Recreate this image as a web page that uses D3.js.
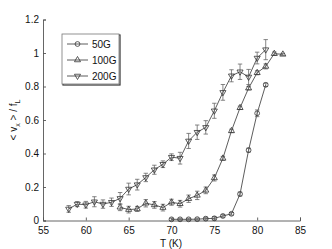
<!DOCTYPE html>
<html>
<head>
<meta charset="utf-8">
<script src="https://cdn.jsdelivr.net/npm/d3@7"></script>
<style>
body { margin: 0; background: #fff; }
text { font-family: "Liberation Sans", Arial, sans-serif; }
</style>
</head>
<body>
<script>
var temps50 = [70, 71, 72, 73, 74, 75, 76, 77, 78, 79, 80, 81];
var vals50 = [0.007, 0.007, 0.007, 0.008, 0.011, 0.013, 0.027, 0.04, 0.158, 0.42, 0.64, 0.81];
var errs50 = [0.006, 0.006, 0.006, 0.006, 0.008, 0.01, 0.008, 0.008, 0.012, 0.012, 0.02, 0.01];

var temps100 = [64, 65, 66, 67, 68, 69, 70, 71, 72, 73, 74, 75, 76, 77, 78, 79, 80, 81, 82, 83];
var vals100 = [0.079, 0.065, 0.069, 0.103, 0.093, 0.077, 0.109, 0.1, 0.13, 0.15, 0.18, 0.254, 0.371, 0.535, 0.673, 0.79, 0.882, 0.92, 0.996, 0.992];
var errs100 = [0.02, 0.02, 0.015, 0.022, 0.02, 0.02, 0.018, 0.02, 0.022, 0.025, 0.02, 0.018, 0.012, 0.01, 0.01, 0.01, 0.012, 0.015, 0.01, 0.006];

var temps200 = [58, 59, 60, 61, 62, 63, 64, 65, 66, 67, 68, 69, 70, 71, 72, 73, 74, 75, 76, 77, 78, 79, 80, 81];
var vals200 = [0.069, 0.098, 0.094, 0.112, 0.098, 0.109, 0.132, 0.188, 0.214, 0.257, 0.303, 0.336, 0.378, 0.372, 0.475, 0.527, 0.556, 0.655, 0.765, 0.864, 0.888, 0.857, 0.97, 1.02];
var errs200 = [0.02, 0.015, 0.02, 0.03, 0.025, 0.025, 0.035, 0.035, 0.032, 0.025, 0.027, 0.02, 0.02, 0.035, 0.045, 0.043, 0.04, 0.045, 0.047, 0.036, 0.046, 0.045, 0.035, 0.06];

var seriesNames = ['50G', '100G', '200G'];
var xTicks = [55, 60, 65, 70, 75, 80, 85];
var yTicks = [0, 0.2, 0.4, 0.6, 0.8, 1, 1.2];

var width = 332, height = 249;
var svg = d3.select('body').append('svg').attr('width', width).attr('height', height);

var x = d3.scaleLinear().domain([55, 85]).range([43, 300]);
var y = d3.scaleLinear().domain([0, 1.2]).range([220.5, 19.5]);

var lineCol = '#333';
var markerFns = [
    function(g) { g.append('circle').attr('r', 2.4); },
    function(g) { g.append('path').attr('d', d3.symbol(d3.symbolTriangle, 16)()); },
    function(g) { g.append('path').attr('d', d3.symbol(d3.symbolTriangle, 16)()).attr('transform', 'rotate(180)'); }
];

// axes
var xAxis = svg.append('g').attr('transform', 'translate(0,220.5)')
    .call(d3.axisBottom(x).tickValues(xTicks).tickSize(-3).tickPadding(4).tickFormat(d3.format('d')));
var yAxis = svg.append('g').attr('transform', 'translate(43,0)')
    .call(d3.axisLeft(y).tickValues(yTicks).tickSize(-3).tickPadding(4).tickFormat(function(d) { return d3.format('~g')(d); }));
[xAxis, yAxis].forEach(function(a) {
    a.select('.domain').attr('stroke', '#555').attr('stroke-width', 0.9);
    a.selectAll('.tick line').attr('stroke', '#555').attr('stroke-width', 0.9);
    a.selectAll('.tick text').attr('fill', '#111').style('font-size', '10px');
});
xAxis.selectAll('.tick text').attr('dy', '0.9em');

// series
var allSeries = [
    { t: temps50, v: vals50, e: errs50 },
    { t: temps100, v: vals100, e: errs100 },
    { t: temps200, v: vals200, e: errs200 }
];

var line = d3.line().x(function(d) { return x(d.t); }).y(function(d) { return y(d.v); });

allSeries.forEach(function(s, si) {
    var pts = s.t.map(function(t, i) { return { t: t, v: s.v[i], e: s.e[i] }; });
    var g = svg.append('g');
    g.append('path').datum(pts).attr('d', line)
        .attr('fill', 'none').attr('stroke', lineCol).attr('stroke-width', 0.8);
    var eb = g.selectAll('.eb').data(pts).enter().append('g').attr('class', 'eb')
        .attr('stroke', '#666').attr('stroke-width', 0.8);
    eb.append('line')
        .attr('x1', function(d) { return x(d.t); }).attr('x2', function(d) { return x(d.t); })
        .attr('y1', function(d) { return y(d.v - d.e); }).attr('y2', function(d) { return y(d.v + d.e); });
    eb.append('line')
        .attr('x1', function(d) { return x(d.t) - 2.2; }).attr('x2', function(d) { return x(d.t) + 2.2; })
        .attr('y1', function(d) { return y(d.v - d.e); }).attr('y2', function(d) { return y(d.v - d.e); });
    eb.append('line')
        .attr('x1', function(d) { return x(d.t) - 2.2; }).attr('x2', function(d) { return x(d.t) + 2.2; })
        .attr('y1', function(d) { return y(d.v + d.e); }).attr('y2', function(d) { return y(d.v + d.e); });
    g.selectAll('.mk').data(pts).enter().append('g').attr('class', 'mk')
        .attr('transform', function(d) { return 'translate(' + x(d.t) + ',' + y(d.v) + ')'; })
        .attr('fill', 'none').attr('stroke', lineCol).attr('stroke-width', 0.8)
        .each(function() { markerFns[si](d3.select(this)); });
});

// axis labels
svg.append('text').attr('x', 171).attr('y', 247).attr('text-anchor', 'middle')
    .style('font-size', '10px').attr('fill', '#111').text('T (K)');
var yl = svg.append('text').attr('transform', 'translate(17,120) rotate(-90)')
    .attr('text-anchor', 'middle').style('font-size', '10px').attr('fill', '#111');
yl.append('tspan').text('< v');
yl.append('tspan').attr('dy', 3).style('font-size', '7px').text('x');
yl.append('tspan').attr('dy', -3).text(' > / f');
yl.append('tspan').attr('dy', 3).style('font-size', '7px').text('L');

// legend
var lg = svg.append('g');
lg.append('rect').attr('x', 63).attr('y', 35).attr('width', 57).attr('height', 50)
    .attr('fill', 'none').attr('stroke', '#333').attr('stroke-width', 1.2);
lg.append('rect').attr('x', 62).attr('y', 34).attr('width', 57).attr('height', 50)
    .attr('fill', '#fff').attr('stroke', '#777').attr('stroke-width', 0.8);
seriesNames.forEach(function(name, i) {
    var ly = 44 + i * 16;
    lg.append('line').attr('x1', 67).attr('x2', 88).attr('y1', ly).attr('y2', ly)
        .attr('stroke', lineCol).attr('stroke-width', 0.8);
    var m = lg.append('g').attr('transform', 'translate(77.5,' + ly + ')')
        .attr('fill', 'none').attr('stroke', lineCol).attr('stroke-width', 0.8);
    markerFns[i](m);
    lg.append('text').attr('x', 92).attr('y', ly + 3.5).style('font-size', '10px')
        .attr('fill', '#111').text(name);
});
</script>
</body>
</html>
